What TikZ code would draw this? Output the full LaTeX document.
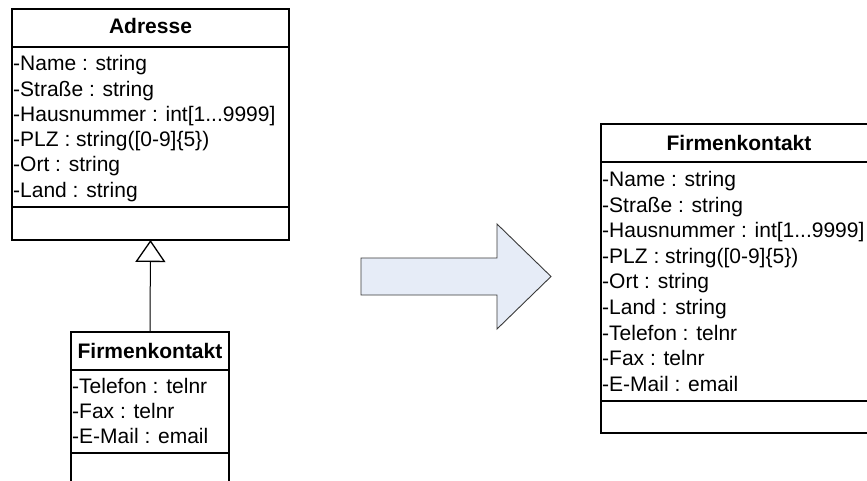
\documentclass[tikz,border=0pt]{standalone}
\usepackage{fontspec}
\setmainfont{Liberation Sans}
\usetikzlibrary{arrows.meta}
\definecolor{arrowfill}{HTML}{E6ECF7}
\definecolor{arrowline}{HTML}{3A3A3A}
\begin{document}
\begin{tikzpicture}[x=1pt,y=-1pt,
  classbox/.style={draw, line width=1.5pt, inner sep=0pt, outer sep=0pt, anchor=north west},
  divider/.style={line width=1.5pt},
  attr/.style={anchor=base west, inner sep=0pt, font=\fontsize{21}{25}\selectfont},
  ctitle/.style={anchor=base, inner sep=0pt, font=\fontsize{21}{25}\selectfont\bfseries},
  inherit/.style={line width=1pt, -{Triangle[open, width=30pt, length=22pt, line width=1.3pt]}},
  blockarrow/.style={fill=arrowfill, draw=arrowline, line width=0.9pt, line join=miter}]
\useasboundingbox (0,0) rectangle (867,481);
\clip (0,0) rectangle (867,481);

% class Adresse
\node[classbox, minimum width=277pt, minimum height=231pt] (adr) at (12,9) {};
\draw[divider] (12,47) -- (289,47);
\draw[divider] (12,207) -- (289,207);
\node[ctitle] (adrT) at (150.5,33.5) {Adresse};
\node[attr] (a1) at (13,71) {-Name : string};
\node[attr] (a2) at (13,96.2) {-Straße : string};
\node[attr] (a3) at (13,121.4) {-Hausnummer : int[1...9999]};
\node[attr] (a4) at (13,146.6) {-PLZ : string([0-9]\{5\})};
\node[attr] (a5) at (13,171.8) {-Ort : string};
\node[attr] (a6) at (13,197) {-Land : string};

% class Firmenkontakt (subclass)
\node[classbox, minimum width=158pt, minimum height=170pt] (fk) at (71,332) {};
\draw[divider] (71,370) -- (229,370);
\draw[divider] (71,453) -- (229,453);
\node[ctitle] (fkT) at (150,358) {Firmenkontakt};
\node[attr] (f1) at (72,393) {-Telefon : telnr};
\node[attr] (f2) at (72,418) {-Fax : telnr};
\node[attr] (f3) at (72,443) {-E-Mail : email};

% generalization
\draw[inherit] (fk.north) -- (adr.south);

% block arrow
\draw[blockarrow] (361,258) -- (497,258) -- (497,224) -- (551,276.5)
  -- (497,329) -- (497,295) -- (361,295) -- cycle;

% merged class Firmenkontakt
\node[classbox, minimum width=276pt, minimum height=309pt] (mk) at (601,124) {};
\draw[divider] (601,162) -- (877,162);
\draw[divider] (601,401) -- (877,401);
\node[ctitle] (mkT) at (739,150.7) {Firmenkontakt};
\node[attr] (m1) at (602,186.7) {-Name : string};
\node[attr] (m2) at (602,212.25) {-Straße : string};
\node[attr] (m3) at (602,237.8) {-Hausnummer : int[1...9999]};
\node[attr] (m4) at (602,263.35) {-PLZ : string([0-9]\{5\})};
\node[attr] (m5) at (602,288.9) {-Ort : string};
\node[attr] (m6) at (602,314.45) {-Land : string};
\node[attr] (m7) at (602,340) {-Telefon : telnr};
\node[attr] (m8) at (602,365.55) {-Fax : telnr};
\node[attr] (m9) at (602,391.1) {-E-Mail : email};
\end{tikzpicture}
\end{document}
